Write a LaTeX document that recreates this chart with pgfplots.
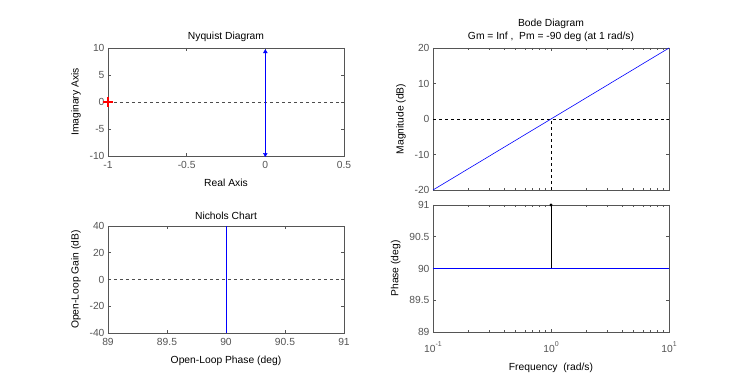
\documentclass[border=0pt]{standalone}
\usepackage{pgfplots}
\pgfplotsset{compat=1.18}
\usepackage{fontspec}
\setmainfont{Liberation Sans}
\definecolor{axgray}{HTML}{555555}
\definecolor{mblue}{HTML}{0000FF}
\pgfplotsset{mstyle/.style={
  scale only axis, anchor=south west, clip=false,
  axis line style={axgray, line width=0.8pt},
  tick style={axgray, line width=0.6pt},
  major tick length=3pt, minor tick length=2pt, tick align=inside,
  ticklabel style={font=\fontsize{10.3}{11}\selectfont, text=axgray},
  xticklabel style={yshift=-2pt},
  label style={font=\fontsize{10.3}{11}\selectfont},
  xlabel style={yshift=-3pt},
  ylabel style={yshift=2pt},
  title style={font=\fontsize{10.3}{13}\selectfont, align=center, yshift=-3pt},
  /pgf/number format/assume math mode=true}}
\begin{document}
\begin{tikzpicture}
% Nyquist
\begin{axis}[mstyle, at={(108pt,219pt)}, width=236pt, height=108pt,
  xmin=-1, xmax=0.5, ymin=-10, ymax=10,
  xtick={-1,-0.5,0,0.5}, xticklabels={-1,-0.5,0,0.5},
  ytick={-10,-5,0,5,10}, yticklabels={-10,-5,0,5,10},
  title={Nyquist Diagram}, xlabel={Real Axis}, ylabel={Imaginary Axis},
  axis on top=false]
\addplot[black!70, dashed, line width=0.6pt] coordinates {(-1,0) (0.5,0)};
\addplot[mblue, line width=0.9pt] coordinates {(0,-9.8) (0,9.5)};
\addplot[mblue, only marks, mark=triangle*, mark size=2.2pt] coordinates {(0,9.3)};
\addplot[mblue, only marks, mark=triangle*, mark size=2.2pt, mark options={rotate=180}] coordinates {(0,-9.7)};
\addplot[only marks, mark=+, mark size=5pt, mark options={draw=red, line width=1.2pt}] coordinates {(-1,0)};
\end{axis}
% Nichols
\begin{axis}[mstyle, at={(108pt,42pt)}, width=236pt, height=107pt,
  xmin=89, xmax=91, ymin=-40, ymax=40,
  xtick={89,89.5,90,90.5,91}, xticklabels={89,89.5,90,90.5,91},
  ytick={-40,-20,0,20,40}, yticklabels={-40,-20,0,20,40},
  title={Nichols Chart}, xlabel={Open-Loop Phase (deg)}, ylabel={Open-Loop Gain (dB)}]
\addplot[black!70, dashed, line width=0.6pt] coordinates {(89,0) (91,0)};
\addplot[mblue, line width=0.9pt] coordinates {(90,-40) (90,40)};
\end{axis}
% Bode magnitude
\begin{axis}[mstyle, at={(433pt,185pt)}, width=236pt, height=142pt,
  xmode=log, xmin=0.1, xmax=10, ymin=-20, ymax=20,
  xtick={0.1,1,10}, xticklabels={},
  ytick={-20,-10,0,10,20}, yticklabels={-20,-10,0,10,20},
  title={Bode Diagram\\Gm = Inf ,\ \ Pm = -90 deg (at 1 rad/s)},
  ylabel={Magnitude (dB)}]
\addplot[black, dashed, line width=0.7pt] coordinates {(0.1,0) (10,0)};
\addplot[black, dashed, line width=0.7pt] coordinates {(1,-20) (1,0)};
\addplot[mblue, line width=0.6pt] coordinates {(0.1,-20) (10,20)};
\end{axis}
% Bode phase
\begin{axis}[mstyle, at={(433pt,43pt)}, width=236pt, height=127pt,
  xmode=log, xmin=0.1, xmax=10, ymin=89, ymax=91,
  xtick={0.1,1,10},
  xticklabels={10\raisebox{1.2ex}{\fontsize{7}{7}\selectfont -1},10\raisebox{1.2ex}{\fontsize{7}{7}\selectfont 0},10\raisebox{1.2ex}{\fontsize{7}{7}\selectfont 1}},
  xticklabel style={yshift=-4pt},
  ytick={89,89.5,90,90.5,91}, yticklabels={89,89.5,90,90.5,91},
  xlabel={Frequency\ \ (rad/s)}, ylabel={Phase (deg)}]
\addplot[mblue, line width=0.9pt] coordinates {(0.1,90) (10,90)};
\addplot[black, line width=0.8pt, mark=*, mark size=1pt, mark repeat=2, mark phase=2] coordinates {(1,90) (1,91)};
\end{axis}
\pgfresetboundingbox
\path[use as bounding box] (0,0) rectangle (740pt,375pt);
\end{tikzpicture}
\end{document}
